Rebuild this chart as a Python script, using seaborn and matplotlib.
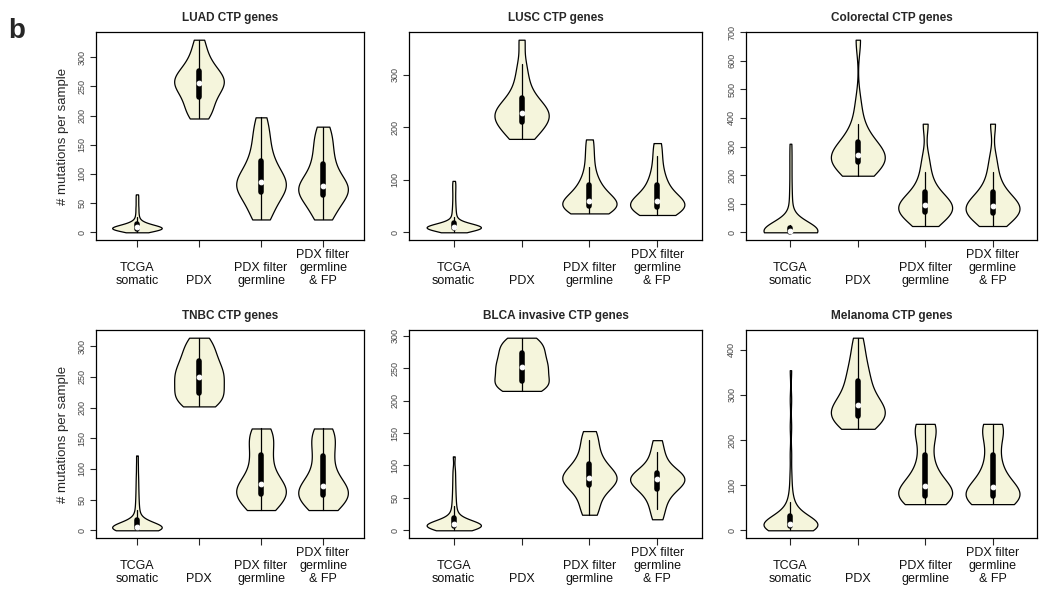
import numpy as np
import pandas as pd
import matplotlib
matplotlib.use('Agg')
import matplotlib.pyplot as plt
import seaborn as sns
from matplotlib.ticker import MultipleLocator

sns.set_theme(style='white')
plt.rcParams['font.family'] = ['Liberation Sans', 'DejaVu Sans']

# ── DATA (mutations per sample) ────────────────────────────
groups = ['TCGA\nsomatic', 'PDX', 'PDX filter\ngermline', 'PDX filter\ngermline\n& FP']
titles = ['LUAD CTP genes', 'LUSC CTP genes', 'Colorectal CTP genes',
          'TNBC CTP genes', 'BLCA invasive CTP genes', 'Melanoma CTP genes']
tick_steps = [50, 100, 100, 50, 50, 100]

luad = [
    [0, 1, 1, 2, 2, 3, 3, 4, 4, 4, 5, 5, 5, 6, 6, 6, 7, 7, 7, 7, 8, 8, 8, 8, 9, 9, 9,
     10, 10, 10, 11, 11, 12, 12, 13, 13, 14, 15, 16, 17, 18, 20,
     23, 27, 32, 38, 44, 51, 58, 65],
    [195, 203, 212, 222, 230, 238, 245, 250, 255, 258, 262, 266, 272, 278, 285, 296, 310, 330],
    [22, 32, 45, 58, 68, 72, 78, 82, 85, 88, 95, 105, 115, 125, 140, 158, 175, 197],
    [22, 32, 44, 55, 62, 68, 72, 76, 78, 80, 88, 98, 110, 120, 135, 150, 165, 181],
]
lusc = [
    [0, 2, 3, 4, 5, 5, 6, 6, 7, 7, 7, 8, 8, 8, 8, 9, 9, 9, 9, 10, 10, 10, 10, 11, 11, 11,
     12, 12, 12, 13, 13, 14, 15, 16, 17, 19, 21,
     25, 30, 36, 43, 51, 60, 70, 80, 89, 98],
    [178, 184, 192, 200, 207, 212, 217, 221, 225, 228, 232, 237, 242, 250, 260, 275, 295, 320, 367],
    [36, 40, 44, 47, 50, 52, 54, 56, 58, 62, 68, 76, 85, 92, 105, 125, 150, 177],
    [33, 37, 41, 44, 48, 51, 54, 56, 58, 60, 66, 74, 84, 92, 105, 122, 145, 170],
]
colorectal = [
    [0, 0, 0, 0, 0, 0, 0, 0, 1, 1, 1, 1, 1, 2, 2, 2, 2, 3, 3, 3, 4, 4, 4, 5, 5, 5,
     6, 6, 7, 7, 8, 8, 10, 10, 12, 15, 18, 22, 25,
     40, 60, 85, 120, 160, 210, 260, 310],
    [198, 208, 220, 232, 242, 250, 256, 262, 266, 270, 276, 284, 292, 305, 325, 350, 380, 450, 674],
    [22, 35, 48, 60, 68, 74, 80, 86, 90, 95, 102, 110, 118, 130, 150, 175, 210, 260, 380],
    [22, 35, 48, 58, 66, 72, 78, 84, 88, 92, 100, 108, 118, 130, 150, 175, 210, 260, 380],
]
tnbc = [
    [0, 0, 1, 1, 1, 2, 2, 2, 2, 3, 3, 3, 3, 3, 4, 4, 4, 4, 4, 5, 5, 5, 5, 6, 6, 6, 7, 7,
     8, 8, 9, 10, 11, 12, 14, 16, 18,
     22, 27, 33, 40, 48, 57, 67, 78, 90, 105, 122],
    [202, 206, 212, 218, 222, 228, 235, 242, 248, 252, 258, 264, 270, 278, 286, 295, 305, 314],
    [33, 38, 45, 52, 58, 62, 66, 70, 72, 78, 88, 100, 113, 125, 138, 150, 160, 166],
    [33, 38, 45, 52, 56, 60, 64, 68, 70, 76, 86, 98, 112, 125, 138, 150, 160, 166],
]
blca = [
    [0, 1, 2, 3, 3, 4, 4, 5, 5, 5, 6, 6, 6, 6, 7, 7, 7, 7, 8, 8, 8, 8, 9, 9, 9, 10, 10,
     11, 11, 12, 13, 14, 15, 17, 19, 22,
     26, 31, 37, 44, 52, 61, 71, 82, 94, 114],
    [215, 218, 222, 226, 230, 236, 242, 248, 252, 256, 262, 268, 274, 280, 286, 292, 297],
    [24, 34, 48, 60, 70, 74, 77, 79, 81, 84, 88, 95, 103, 112, 125, 140, 153],
    [17, 33, 45, 56, 64, 68, 72, 76, 79, 81, 83, 86, 88, 95, 108, 120, 139],
]
melanoma = [
    [0, 1, 2, 3, 4, 5, 6, 6, 7, 7, 8, 8, 8, 9, 9, 9, 10, 10, 10, 11, 11, 11, 12, 12, 12,
     13, 13, 14, 14, 15, 16, 17, 18, 19, 20, 22, 24, 26, 28, 31, 34, 38, 43, 48, 55,
     62, 75, 95, 125, 170, 230, 290, 355],
    [225, 232, 240, 246, 252, 258, 264, 270, 275, 282, 292, 305, 320, 335, 350, 370, 395, 427],
    [58, 62, 66, 70, 74, 78, 82, 86, 90, 95, 102, 112, 125, 140, 160, 185, 210, 225, 236, 236],
    [58, 62, 65, 68, 72, 76, 80, 84, 86, 92, 100, 110, 125, 140, 160, 185, 210, 225, 236, 236],
]
panels = [luad, lusc, colorectal, tnbc, blca, melanoma]

# smoothing: TCGA groups per panel, the other groups share one value
tcga_bw = [0.6, 0.6, 1.0, 0.6, 0.6, 0.6]
pdx_bw = 0.8

# ── FIGURE ──────────────────────────────────────────────────
W, H = 1041, 591
fig = plt.figure(figsize=(W / 100, H / 100), dpi=100)

col_px = [(96, 364), (409, 702), (746, 1037)]
row_px = [(32, 240), (330, 538)]

for i, (data, title) in enumerate(zip(panels, titles)):
    r, c = divmod(i, 3)
    x0, x1 = col_px[c]
    y0, y1 = row_px[r]
    ax = fig.add_axes([x0 / W, 1 - y1 / H, (x1 - x0) / W, (y1 - y0) / H])

    bws = [tcga_bw[i], pdx_bw, pdx_bw, pdx_bw]
    for g, vals, bw in zip(groups, data, bws):
        df = pd.DataFrame({'group': [g] * len(vals), 'value': vals})
        sns.violinplot(data=df, x='group', y='value', order=groups, ax=ax,
                       color='#F5F5DC', linecolor='black', linewidth=0.9,
                       cut=0, density_norm='width', width=0.8, bw_adjust=bw,
                       inner='box', inner_kws=dict(box_width=4, whis_width=0.9, marker='o'),
                       saturation=1)

    lo, hi = 0, max(max(v) for v in data)
    rng = hi - lo
    ax.set_ylim(lo - 0.04 * rng, hi + 0.04 * rng)
    ax.set_xlim(-0.66, 3.66)
    ax.yaxis.set_major_locator(MultipleLocator(tick_steps[i]))

    ax.set_title(title, fontsize=8.5, fontweight='bold', pad=8)
    ax.set_xlabel('')
    ax.set_ylabel('# mutations per sample' if c == 0 else '', fontsize=9.5, labelpad=6)

    for s in ax.spines.values():
        s.set_color('black')
        s.set_linewidth(0.9)
    ax.tick_params(axis='y', left=True, length=4, width=0.8, pad=3,
                   labelsize=6.5, labelcolor='#444444', rotation=90)
    ax.tick_params(axis='x', bottom=True, length=5, width=0.8, pad=29,
                   labelsize=9, labelcolor='#111111')
    for lbl in ax.get_yticklabels():
        lbl.set_va('center')
    for lbl in ax.get_xticklabels():
        lbl.set_va('bottom')
        lbl.set_linespacing(1.1)

fig.text(0.008, 0.935, 'b', fontsize=20, fontweight='bold')

plt.savefig('out.png', dpi=100)
